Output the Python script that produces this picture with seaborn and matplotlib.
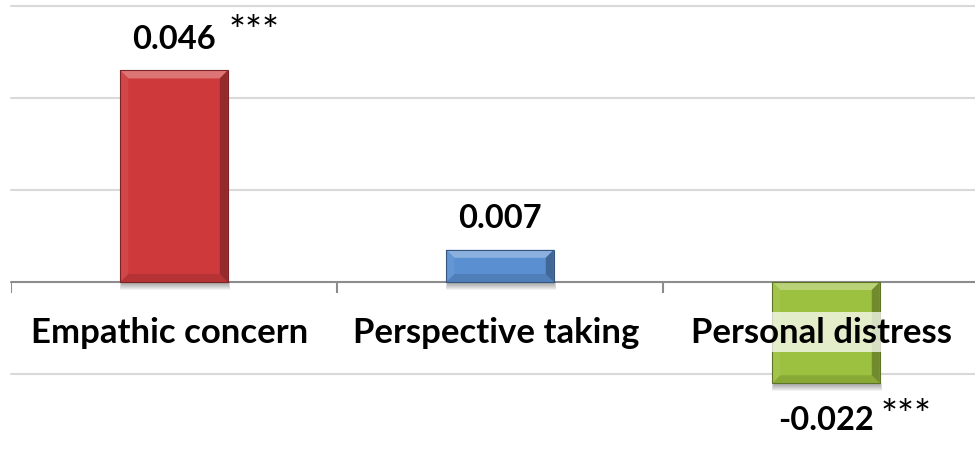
import matplotlib
matplotlib.use("Agg")
import matplotlib.pyplot as plt
import matplotlib.colors as mcolors
from matplotlib.patches import Polygon, Rectangle
import seaborn as sns
import pandas as pd
import numpy as np

categories = ["Empathic concern", "Perspective taking", "Personal distress"]
values = [0.046, 0.007, -0.022]
value_labels = ["0.046", "0.007", "-0.022"]
stars = ["***", "", "***"]
bar_colors = ["#CE3A3C", "#5A8FD1", "#9CC03F"]
grid_values = [0.06, 0.04, 0.02, -0.02]

sns.set_theme(style="white")
plt.rcParams["font.family"] = ["Lato", "DejaVu Sans"]

W, H = 975, 464
fig = plt.figure(figsize=(W / 100, H / 100), dpi=100)
# axes spans category edges 11..989 px and y 0.06 at 7px .. -0.04 at 467px
ax = fig.add_axes([11 / W, (H - 467) / H, 978 / W, 460 / H])

df = pd.DataFrame({"cat": categories, "val": values})
sns.barplot(data=df, x="cat", y="val", hue="cat", palette=bar_colors,
            width=0.33, legend=False, ax=ax, saturation=1, zorder=3,
            edgecolor="none")

ax.set_xlim(-0.5, 2.5)
ax.set_ylim(-0.04, 0.06)
for s in ax.spines.values():
    s.set_visible(False)
ax.set_xlabel("")
ax.set_ylabel("")
ax.set_yticks([])
ax.set_xticks([])

# gridlines
for g in grid_values:
    ax.axhline(g, color="#D9D9D9", lw=1.5, zorder=1, clip_on=False)
# zero axis with tick marks at category boundaries
ax.axhline(0, color="#8C8C8C", lw=1.5, zorder=2, clip_on=False)
bounds = np.arange(len(categories) + 1) - 0.5
px_y = 0.1 / 460  # data units per pixel in y
px_x = 3.0 / 978  # data units per pixel in x
ax.vlines(bounds, -11 * px_y, 0, color="#8C8C8C", lw=1.5, zorder=2)


def shade(c, f):
    r, g, b = mcolors.to_rgb(c)
    if f >= 1:
        t = f - 1
        return (r + (1 - r) * t, g + (1 - g) * t, b + (1 - b) * t)
    return (r * f, g * f, b * f)


dx, dy = 8 * px_x, 8 * px_y
for p, c in zip(ax.patches, bar_colors):
    x0 = p.get_x()
    x1 = x0 + p.get_width()
    y_a, y_b = p.get_y(), p.get_y() + p.get_height()
    top, bot = max(y_a, y_b), min(y_a, y_b)
    # shadow
    for k in range(1, 9):
        ax.add_patch(Rectangle((x0 + 2 * px_x - k * 0.3 * px_x, bot - k * px_y),
                               (x1 - x0) + k * 0.6 * px_x - 2 * px_x, k * px_y,
                               color="black", alpha=0.05, lw=0, zorder=2.5))
    polys = [
        ([(x0, top), (x1, top), (x1 - dx, top - dy), (x0 + dx, top - dy)], shade(c, 1.3)),
        ([(x0, bot), (x1, bot), (x1 - dx, bot + dy), (x0 + dx, bot + dy)], shade(c, 0.88)),
        ([(x0, bot), (x0, top), (x0 + dx, top - dy), (x0 + dx, bot + dy)], shade(c, 1.06)),
        ([(x1, bot), (x1, top), (x1 - dx, top - dy), (x1 - dx, bot + dy)], shade(c, 0.72)),
    ]
    for pts, col in polys:
        ax.add_patch(Polygon(pts, closed=True, facecolor=col, edgecolor="none",
                             zorder=3.5))
    ax.add_patch(Rectangle((x0, bot), x1 - x0, top - bot, facecolor="none",
                           edgecolor=shade(c, 0.6), lw=0.8, zorder=3.6))

# value labels
for i, (v, lab, st) in enumerate(zip(values, value_labels, stars)):
    off = 32 if v >= 0 else -36
    ax.annotate(lab, (i, v), xytext=(0, off), textcoords="offset pixels",
                ha="center", va="center", fontsize=23.5, fontweight="bold",
                color="black", zorder=5)
    if st:
        soff = 6 if v >= 0 else 3
        ax.annotate(st, (i, v), xytext=(80, off + soff), textcoords="offset pixels",
                    ha="center", va="center", fontsize=29, color="black", zorder=5)

# category labels
for i, cat in enumerate(categories):
    ax.annotate(cat, (i, 0), xytext=(-4, -50), textcoords="offset pixels",
                ha="center", va="center", fontsize=25, fontweight="bold",
                color="black", zorder=6,
                bbox=dict(boxstyle="square,pad=0.12", facecolor="white",
                          edgecolor="none", alpha=0.72))

fig.savefig("out.png", dpi=100)
